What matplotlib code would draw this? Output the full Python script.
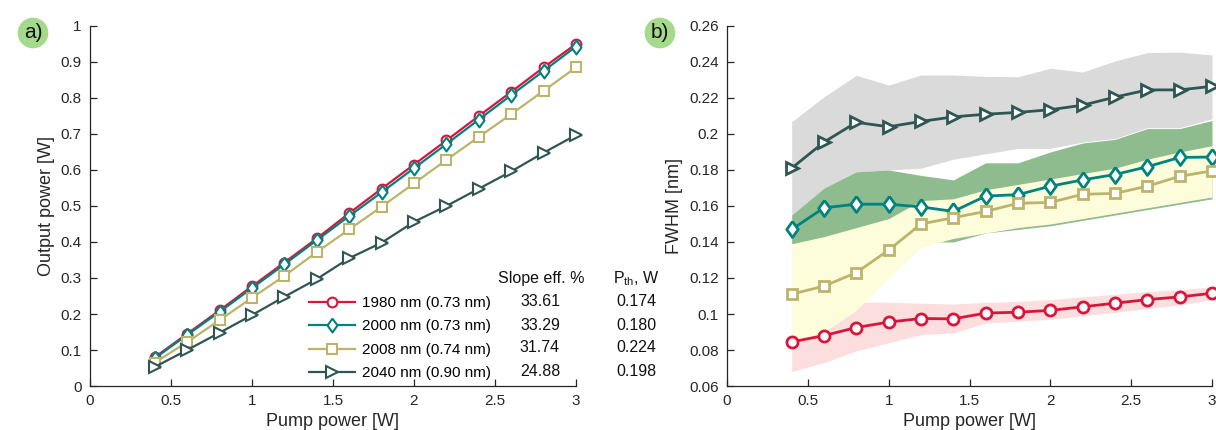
import numpy as np
import matplotlib.pyplot as plt
from matplotlib.ticker import FuncFormatter

plt.rcParams['font.family'] = ['Liberation Sans', 'DejaVu Sans']

# ---- data ----
pump = [0.4, 0.6, 0.8, 1.0, 1.2, 1.4, 1.6, 1.8, 2.0, 2.2, 2.4, 2.6, 2.8, 3.0]

pout_1980 = [0.080, 0.145, 0.210, 0.277, 0.343, 0.410, 0.480, 0.548, 0.615, 0.682, 0.750, 0.817, 0.885, 0.950]
pout_2000 = [0.077, 0.142, 0.206, 0.272, 0.338, 0.405, 0.472, 0.538, 0.605, 0.672, 0.740, 0.808, 0.875, 0.943]
pout_2008 = [0.065, 0.122, 0.183, 0.245, 0.306, 0.372, 0.435, 0.498, 0.563, 0.628, 0.692, 0.755, 0.820, 0.885]
pout_2040 = [0.053, 0.100, 0.148, 0.197, 0.248, 0.297, 0.355, 0.398, 0.456, 0.500, 0.548, 0.596, 0.648, 0.697]

fwhm_1980 = [0.0845, 0.088, 0.0925, 0.0955, 0.0975, 0.0973, 0.1005, 0.101, 0.102, 0.104, 0.106, 0.108, 0.1095, 0.1115]
lo_1980 = [0.068, 0.073, 0.0795, 0.084, 0.0885, 0.0895, 0.095, 0.096, 0.097, 0.099, 0.101, 0.103, 0.105, 0.108]
hi_1980 = [0.086, 0.096, 0.1065, 0.1065, 0.106, 0.1055, 0.1065, 0.107, 0.108, 0.1095, 0.111, 0.1125, 0.1135, 0.115]

fwhm_2000 = [0.147, 0.159, 0.161, 0.161, 0.1595, 0.157, 0.1655, 0.1663, 0.171, 0.1745, 0.1775, 0.1818, 0.187, 0.1872]
lo_2000 = [0.139, 0.139, 0.140, 0.140, 0.140, 0.140, 0.145, 0.147, 0.149, 0.152, 0.155, 0.158, 0.161, 0.164]
hi_2000 = [0.155, 0.170, 0.179, 0.180, 0.177, 0.1745, 0.184, 0.184, 0.190, 0.195, 0.197, 0.203, 0.203, 0.2075]

fwhm_2008 = [0.111, 0.1155, 0.123, 0.1355, 0.150, 0.1535, 0.157, 0.1615, 0.162, 0.1665, 0.167, 0.171, 0.1765, 0.1795]
lo_2008 = [0.084, 0.090, 0.102, 0.120, 0.137, 0.142, 0.145, 0.148, 0.150, 0.153, 0.156, 0.159, 0.162, 0.165]
hi_2008 = [0.139, 0.143, 0.148, 0.153, 0.163, 0.164, 0.169, 0.172, 0.175, 0.178, 0.181, 0.186, 0.190, 0.1935]

fwhm_2040 = [0.181, 0.1955, 0.2065, 0.204, 0.207, 0.2095, 0.211, 0.212, 0.2135, 0.216, 0.2205, 0.2245, 0.2245, 0.2265]
lo_2040 = [0.155, 0.170, 0.179, 0.180, 0.181, 0.186, 0.189, 0.192, 0.192, 0.1955, 0.1975, 0.2035, 0.2035, 0.2085]
hi_2040 = [0.2068, 0.2207, 0.2326, 0.2272, 0.2328, 0.2328, 0.232, 0.2318, 0.2365, 0.2344, 0.2406, 0.2452, 0.2455, 0.2439]

labels = ['1980 nm (0.73 nm)', '2000 nm (0.73 nm)', '2008 nm (0.74 nm)', '2040 nm (0.90 nm)']
slope_eff = ['33.61', '33.29', '31.74', '24.88']
p_th = ['0.174', '0.180', '0.224', '0.198']

pout = [pout_1980, pout_2000, pout_2008, pout_2040]
fwhm = [fwhm_1980, fwhm_2000, fwhm_2008, fwhm_2040]
lows = [lo_1980, lo_2000, lo_2008, lo_2040]
highs = [hi_1980, hi_2000, hi_2008, hi_2040]

# MATLAB-like diamond (wider than matplotlib's thin 'd')
diamond = [(0, 1), (0.72, 0), (0, -1), (-0.72, 0), (0, 1)]

colors = ['#d8163c', '#00827f', '#bdb46b', '#2e5652']
band_colors = ['#fddede', '#8fbc8f', '#fdfddc', '#dadada']
markers = ['o', diamond, 's', '>']
ms_a = [7, 10, 6.5, 8.5]
ms_b = [8, 11.5, 7, 9]
band_z = [1, 2, 3, 0]

W, H = 1216, 430
def box(l, t, r, b):
    return [l / W, 1 - b / H, (r - l) / W, (b - t) / H]

fig = plt.figure(figsize=(W / 100, H / 100), dpi=100)
ax1 = fig.add_axes(box(90, 26, 576, 386))
ax2 = fig.add_axes(box(727, 26, 1212, 386))

fmt = FuncFormatter(lambda v, p: '%g' % round(v, 3))
axc = '#262626'
for ax in (ax1, ax2):
    for s in ('top', 'right'):
        ax.spines[s].set_visible(False)
    for s in ('left', 'bottom'):
        ax.spines[s].set_color(axc)
        ax.spines[s].set_linewidth(0.9)
    ax.tick_params(direction='in', length=5, width=0.9, color=axc,
                   labelcolor=axc, labelsize=11, pad=6)
    ax.xaxis.set_major_formatter(fmt)
    ax.yaxis.set_major_formatter(fmt)
    ax.set_xlim(0, 3)
    ax.set_xticks(np.arange(0, 3.01, 0.5))
    ax.set_xlabel('Pump power [W]', fontsize=13, color=axc, labelpad=3)

# ---- panel a ----
handles = []
for i in range(4):
    h, = ax1.plot(pump, pout[i], color=colors[i], marker=markers[i], ms=ms_a[i],
                  mfc='white', mec=colors[i], mew=1.5, lw=1.6, clip_on=False, zorder=3 + i)
    handles.append(h)
ax1.set_ylim(0, 1)
ax1.set_yticks(np.arange(0, 1.01, 0.1))
ax1.set_ylabel('Output power [W]', fontsize=13, color=axc, labelpad=4)

ax1.legend(handles, labels, loc='upper left', bbox_to_anchor=(309 / W, 1 - 296 / H),
           bbox_transform=fig.transFigure, frameon=False, fontsize=11,
           handlelength=3.0, handletextpad=0.45, labelspacing=0.62, borderpad=0,
           borderaxespad=0)

fig.text(541 / W, 1 - 279 / H, 'Slope eff. %', ha='center', va='center', fontsize=11.5, color='#111111')
fig.text(636 / W, 1 - 279 / H, r'P$_{\mathregular{th}}$, W', ha='center', va='center',
         fontsize=11.5, color='#111111')
for i in range(4):
    yy = 1 - (302 + 23 * i) / H
    fig.text(540 / W, yy, slope_eff[i], ha='center', va='center', fontsize=11.5, color='#111111')
    fig.text(636 / W, yy, p_th[i], ha='center', va='center', fontsize=11.5, color='#111111')

# ---- panel b ----
for i in range(4):
    ax2.fill_between(pump, lows[i], highs[i], color=band_colors[i], lw=0, zorder=band_z[i])
for i in range(4):
    ax2.plot(pump, fwhm[i], color=colors[i], marker=markers[i], ms=ms_b[i],
             mfc='white', mec=colors[i], mew=2, lw=2, clip_on=False, zorder=5 + i)
ax2.set_ylim(0.06, 0.26)
ax2.set_yticks(np.arange(0.06, 0.2601, 0.02))
ax2.set_ylabel('FWHM [nm]', fontsize=13, color=axc, labelpad=4)

# ---- panel tags ----
for tag, x in (('a)', 33), ('b)', 660)):
    fig.text(x / W, 1 - 33 / H, tag, ha='center', va='center', fontsize=15, color='#111111',
             bbox=dict(boxstyle='circle,pad=0.28', fc='#a5d98b', ec='none'))

fig.savefig('out.png', dpi=100)
